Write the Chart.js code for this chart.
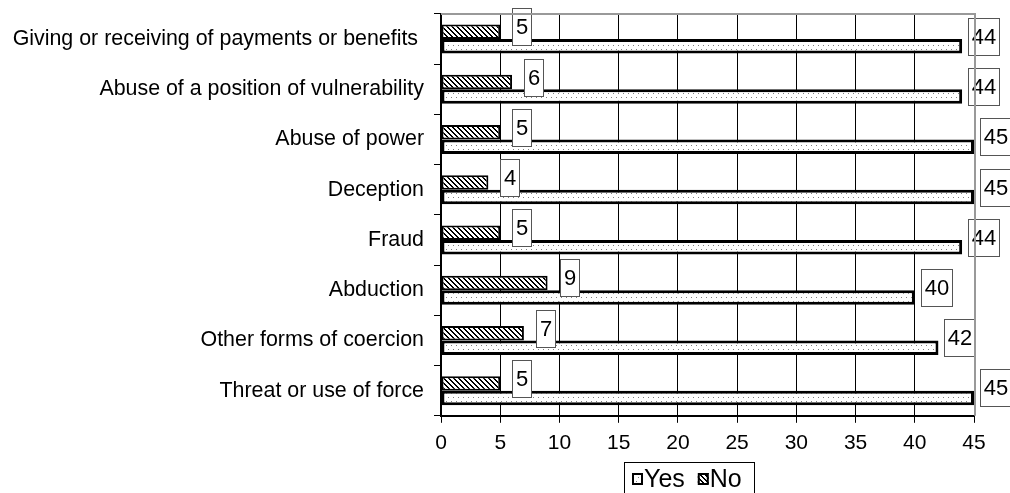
<!DOCTYPE html>
<html>
<head>
<meta charset="utf-8">
<script src="https://cdn.jsdelivr.net/npm/chart.js@4.4.0/dist/chart.umd.min.js"></script>
<style>
  html, body { margin: 0; padding: 0; background: #fff; }
  #chart { display: block; }
</style>
</head>
<body>
<canvas id="chart" width="1010" height="493"></canvas>
<script>
const categories = [
  "Giving or receiving of payments or benefits ",
  "Abuse of a position of vulnerability",
  "Abuse of power",
  "Deception",
  "Fraud",
  "Abduction",
  "Other forms of coercion",
  "Threat or use of force"
];
const yesValues = [44, 44, 45, 45, 44, 40, 42, 45];
const noValues = [5, 6, 5, 4, 5, 9, 7, 5];
const xMax = 45;
const xStep = 5;

const FONT = '"Liberation Sans", Arial, sans-serif';

function dotPattern() {
  const c = document.createElement("canvas");
  c.width = 10; c.height = 8;
  const g = c.getContext("2d");
  g.fillStyle = "#fff";
  g.fillRect(0, 0, 10, 8);
  g.fillStyle = "#808080";
  g.fillRect(1, 1, 1, 1);
  g.fillRect(6, 1, 1, 1);
  g.fillRect(3, 5, 1, 1);
  g.fillRect(8, 5, 1, 1);
  return g.createPattern(c, "repeat");
}

function hatchPattern() {
  const c = document.createElement("canvas");
  c.width = 5; c.height = 5;
  const g = c.getContext("2d");
  g.fillStyle = "#fff";
  g.fillRect(0, 0, 5, 5);
  g.fillStyle = "#000";
  for (let i = 0; i < 5; i++) {
    g.fillRect(i, i, 1, 1);
    g.fillRect((i + 1) % 5, i, 1, 1);
  }
  return g.createPattern(c, "repeat");
}

const dots = dotPattern();
const hatch = hatchPattern();

// white boxes with the values, right of each bar
const valueBoxes = {
  id: "valueBoxes",
  afterDatasetsDraw(chart) {
    const c = chart.ctx;
    c.save();
    c.font = "22px " + FONT;
    c.textAlign = "center";
    c.textBaseline = "middle";
    chart.data.datasets.forEach((ds, di) => {
      const meta = chart.getDatasetMeta(di);
      meta.data.forEach((bar, i) => {
        const txt = String(ds.data[i]);
        const w = Math.round(c.measureText(txt).width + 7);
        const h = 37;
        const left = Math.round(bar.x + ds.labelGap);
        const top = Math.round(bar.y + ds.labelLift - h / 2);
        c.fillStyle = "#fff";
        c.fillRect(left, top, w, h);
        c.strokeStyle = "#555";
        c.lineWidth = 1;
        c.strokeRect(left + 0.5, top + 0.5, w, h);
        c.fillStyle = "#000";
        c.fillText(txt, left + w / 2 + 0.5, top + h / 2 + 1);
      });
    });
    c.restore();
  },
  afterDraw(chart) {
    const c = chart.ctx;
    const a = chart.chartArea;
    c.save();
    // gray frame on top and right
    c.strokeStyle = "#999";
    c.lineWidth = 2;
    c.beginPath();
    c.moveTo(a.left, a.top);
    c.lineTo(a.right + 1, a.top);
    c.lineTo(a.right + 1, a.bottom);
    c.stroke();
    c.restore();
  }
};

// boxed legend under the x axis
const boxLegend = {
  id: "boxLegend",
  afterDraw(chart) {
    const c = chart.ctx;
    c.save();
    const lx = 624, ly = 462;
    c.strokeStyle = "#000";
    c.lineWidth = 1;
    c.strokeRect(lx + 0.5, ly + 0.5, 130, 40);
    c.font = "25px " + FONT;
    c.textBaseline = "middle";
    const items = [chart.data.datasets[1], chart.data.datasets[0]];
    let x = lx + 8;
    items.forEach(ds => {
      c.fillStyle = ds.backgroundColor;
      c.fillRect(x, ly + 11, 11, 12);
      c.strokeStyle = "#000";
      c.lineWidth = 2;
      c.strokeRect(x + 1, ly + 12, 9, 10);
      c.fillStyle = "#000";
      c.fillText(ds.label, x + 12, ly + 18);
      x += 12 + c.measureText(ds.label).width + 13;
    });
    c.restore();
  }
};

new Chart(document.getElementById("chart"), {
  type: "bar",
  data: {
    labels: categories,
    datasets: [
      {
        label: "No",
        data: noValues,
        backgroundColor: hatch,
        borderColor: "#000",
        borderWidth: 2,
        borderSkipped: false,
        labelGap: 12,
        labelLift: -5
      },
      {
        label: "Yes",
        data: yesValues,
        backgroundColor: dots,
        borderColor: "#000",
        borderWidth: 3,
        borderSkipped: false,
        labelGap: 6,
        labelLift: -10
      }
    ]
  },
  options: {
    indexAxis: "y",
    responsive: false,
    animation: false,
    devicePixelRatio: 1,
    categoryPercentage: 0.577,
    barPercentage: 1,
    layout: { padding: { top: 14, right: 36, bottom: 29, left: 0 } },
    plugins: {
      legend: { display: false },
      tooltip: { enabled: false }
    },
    scales: {
      x: {
        min: 0,
        max: xMax,
        afterFit(scale) { scale.paddingLeft = 0; scale.paddingRight = 0; },
        ticks: {
          stepSize: xStep,
          color: "#000",
          padding: 8,
          font: { family: FONT, size: 21 }
        },
        grid: {
          color: "#000",
          lineWidth: 1,
          tickLength: 7
        },
        border: { display: true, color: "#000", width: 2 }
      },
      y: {
        afterFit(scale) {
          scale.width = 441;
          scale.paddingTop = 0;
          scale.paddingBottom = 0;
        },
        ticks: {
          color: "#000",
          padding: 10,
          font: { family: FONT, size: 21.4 }
        },
        grid: {
          drawOnChartArea: false,
          color: "#000",
          tickLength: 7
        },
        border: { display: true, color: "#000", width: 2 }
      }
    }
  },
  plugins: [valueBoxes, boxLegend]
});
</script>
</body>
</html>
